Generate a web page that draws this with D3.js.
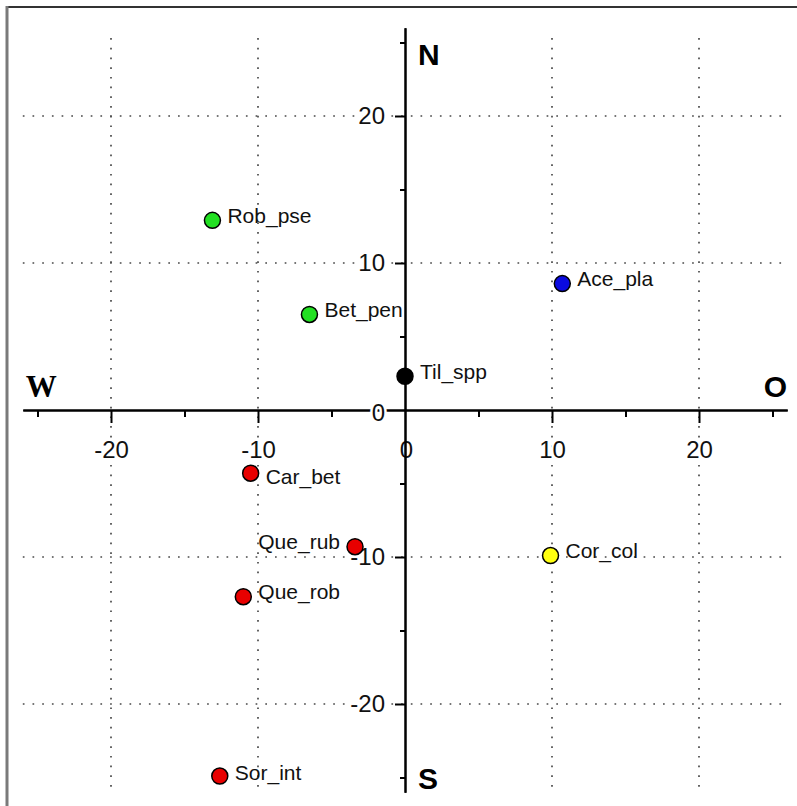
<!DOCTYPE html>
<html>
<head>
<meta charset="utf-8">
<script src="https://cdn.jsdelivr.net/npm/d3@7"></script>
<style>
  body { margin: 0; background: #fff; }
  svg { display: block; font-family: Arial, "Liberation Sans", sans-serif; }
  .grid line { stroke: #4a4a4a; stroke-width: 1.7; stroke-dasharray: 1.7 8; }
  .axis path, .axis line { stroke: #000; stroke-width: 2; }
  .axis text { font-size: 24px; fill: #111; paint-order: stroke; stroke: #fff; stroke-width: 5px; }
  .point-label { font-size: 21px; fill: #111; }
  .compass { font-size: 30px; font-weight: bold; fill: #000; }
</style>
</head>
<body>
<div id="chart"></div>
<script>
const species = ["Rob_pse", "Bet_pen", "Ace_pla", "Til_spp", "Car_bet", "Que_rub", "Que_rob", "Cor_col", "Sor_int"];
const xValues = [-13.1, -6.5, 10.7, 0.0, -10.5, -3.4, -11.0, 9.9, -12.6];
const yValues = [12.9, 6.5, 8.6, 2.3, -4.3, -9.3, -12.7, -9.9, -24.9];
const groups = ["green", "green", "blue", "black", "red", "red", "red", "yellow", "red"];

const majorTicks = [-20, -10, 0, 10, 20];
const minorTicks = [-25, -15, -5, 5, 15, 25];
const gridTicks = [-20, -10, 10, 20];

const groupColor = {
  green: "#22e022",
  blue: "#0a0ae0",
  black: "#000",
  red: "#e80000",
  yellow: "#ffff10",
};
// labels that sit left of their point, and small vertical nudges
const labelLeft = new Set(["Que_rub"]);
const labelNudge = { Car_bet: 8, Sor_int: 2 };

const data = species.map((name, i) => ({
  name,
  x: xValues[i],
  y: yValues[i],
  group: groups[i],
}));

const width = 797;
const height = 806;
const unit = 14.7;
const ox = 405;
const oy = 410;

const x = d3.scaleLinear().domain([-26, 26]).range([ox - 26 * unit, ox + 26 * unit]);
const y = d3.scaleLinear().domain([-26, 26]).range([oy + 26 * unit, oy - 26 * unit]);

const svg = d3.select("#chart").append("svg").attr("width", width).attr("height", height);

// partial frame: top and left edges
svg.append("line")
  .attr("x1", 6).attr("x2", width).attr("y1", 7).attr("y2", 7)
  .attr("stroke", "#333").attr("stroke-width", 2);
svg.append("line")
  .attr("x1", 7).attr("x2", 7).attr("y1", 6).attr("y2", height)
  .attr("stroke", "#7a7a7a").attr("stroke-width", 3);

const grid = svg.append("g").attr("class", "grid");
grid.selectAll(".v")
  .data(gridTicks)
  .join("line")
  .attr("class", "v")
  .attr("x1", (d) => x(d)).attr("x2", (d) => x(d))
  .attr("y1", y(25.3)).attr("y2", y(-26));
grid.selectAll(".h")
  .data(gridTicks)
  .join("line")
  .attr("class", "h")
  .attr("y1", (d) => y(d)).attr("y2", (d) => y(d))
  .attr("x1", x(-26)).attr("x2", x(26));

// x axis through the origin
svg.append("g")
  .attr("class", "axis")
  .attr("transform", `translate(0,${y(0)})`)
  .call(d3.axisBottom(x).tickValues(minorTicks).tickSize(7).tickSizeOuter(0).tickFormat(""));
svg.append("g")
  .attr("class", "axis")
  .attr("transform", `translate(0,${y(0)})`)
  .call(d3.axisBottom(x).tickValues(majorTicks).tickSize(13).tickSizeOuter(0).tickPadding(18).tickFormat((d) => String(d)))
  .call((g) => g.selectAll(".tick").filter((d) => d === 0).select("line").remove())
  .call((g) => g.selectAll(".tick text").filter((d) => d === 0).attr("x", 1));

// y axis through the origin
svg.append("g")
  .attr("class", "axis")
  .attr("transform", `translate(${x(0)},0)`)
  .call(d3.axisLeft(y).tickValues(minorTicks).tickSize(5).tickSizeOuter(0).tickFormat(""));
svg.append("g")
  .attr("class", "axis")
  .attr("transform", `translate(${x(0)},0)`)
  .call(d3.axisLeft(y).tickValues(majorTicks).tickSize(10).tickSizeOuter(0).tickPadding(10).tickFormat((d) => String(d)))
  .call((g) => g.selectAll(".tick").filter((d) => d === 0).select("line").remove())
  .call((g) => g.selectAll(".tick text").filter((d) => d === 0).attr("dy", "0.45em"));

svg.selectAll(".axis .domain").attr("stroke-width", 2);

// compass letters
svg.append("text").attr("class", "compass")
  .attr("x", x(0) + 13).attr("y", y(26) + 37).text("N");
svg.append("text").attr("class", "compass")
  .attr("x", x(0) + 13).attr("y", y(-25.8)).text("S");
svg.append("text").attr("class", "compass")
  .attr("x", x(-25.8)).attr("y", y(0) - 13)
  .style("font-family", "'Liberation Serif', 'DejaVu Serif', serif")
  .style("font-size", "31px")
  .text("W");
svg.append("text").attr("class", "compass")
  .attr("x", x(26)).attr("y", y(0) - 13)
  .attr("text-anchor", "end").text("O");

// points
const pointG = svg.append("g")
  .selectAll("g")
  .data(data)
  .join("g")
  .attr("transform", (d) => `translate(${x(d.x)},${y(d.y)})`);

pointG.append("circle")
  .attr("r", 8)
  .attr("fill", (d) => groupColor[d.group])
  .attr("stroke", "#000")
  .attr("stroke-width", 1.5);

pointG.append("text")
  .attr("class", "point-label")
  .attr("x", (d) => (labelLeft.has(d.name) ? -15 : 15))
  .attr("y", (d) => -5 + (labelNudge[d.name] || 0))
  .attr("dy", "0.35em")
  .attr("text-anchor", (d) => (labelLeft.has(d.name) ? "end" : "start"))
  .text((d) => d.name);
</script>
</body>
</html>
